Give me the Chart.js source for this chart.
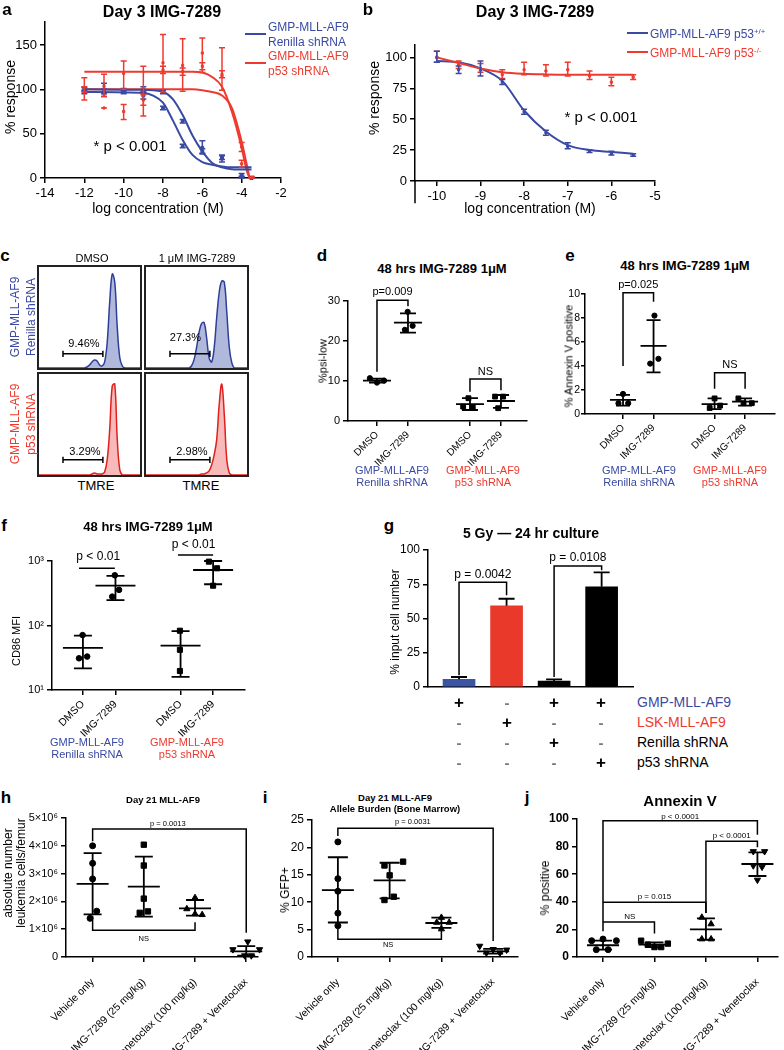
<!DOCTYPE html>
<html>
<head>
<meta charset="utf-8">
<title>IMG-7289 figure</title>
<script src="https://cdn.jsdelivr.net/npm/chart.js@4.4.1/dist/chart.umd.min.js"></script>
<style>
  body { margin: 0; background: #fff; }
  #page { position: relative; width: 784px; height: 1050px; overflow: hidden; background: #fff;
          font-family: Arial, "Liberation Sans", Helvetica, sans-serif; color: #000; }
  #page canvas { position: absolute; }
  .t { position: absolute; white-space: nowrap; line-height: 1; }
  .frame { position: absolute; border: 2px solid #222; box-sizing: border-box; }
  .key { position: absolute; height: 2px; }
  sup { font-size: 0.65em; vertical-align: 0.5em; line-height: 0; }
</style>
</head>
<body>
<div id="page"></div>
<script>
const BLUE = '#3a4aa3';
const RED = '#ee3a2e';
const FONT = 'Arial, "Liberation Sans", Helvetica, sans-serif';

// ---- a: dose response, Renilla vs p53 shRNA ----
const aXTicks = [-14, -12, -10, -8, -6, -4, -2];
const aYTicks = [0, 50, 100, 150];
const aConc = [-12, -11, -10, -9, -8, -7, -6, -5, -4, -3.5];
const aRenA = [97, 96, 97, 93, 79, 36, 34, 22, 3, 0];
const aRenALo = [95, 92, 95, 89, 77, 34, 28, 18, 1, 0];
const aRenAHi = [99, 100, 99, 97, 81, 38, 42, 26, 5, 1];
const aRenB = [100, 100, 99, 100, 97, 64, 30, 23, 1, 0];
const aRenBLo = [98, 95, 97, 97, 95, 62, 27, 21, 0, 0];
const aRenBHi = [102, 107, 101, 103, 99, 66, 33, 25, 2, 1];
const aP53A = [100, 104, 118, 98, 130, 127, 141, 115, 35, 0];
const aP53ALo = [88, 92, 100, 70, 97, 98, 119, 99, 30, 0];
const aP53AHi = [113, 117, 132, 126, 162, 157, 158, 147, 40, 2];
const aP53B = [100, 79, 75, 88, 122, 120, 126, 117, 16, 0];
const aP53BLo = [97, 79, 66, 82, 118, 116, 122, 113, 12, 0];
const aP53BHi = [103, 79, 83, 94, 126, 124, 130, 121, 20, 1];
// fitted curves
const aFitBlueX = [-12, -9, -8.5, -8, -7.5, -7, -6.5, -6, -5.5, -5, -4.5, -3.5];
const aFitRenA = [97, 96, 93, 85, 65, 43, 26, 18, 15, 13, 12, 12];
const aFitRenB = [100, 99.5, 99, 97.5, 89, 71, 48, 30, 17, 12, 10, 9.5];
const aFitRedX = [-12, -6.5, -6, -5.5, -5, -4.5, -4, -3.75, -3.6];
const aFitP53A = [120, 120, 119, 114, 103, 75, 34, 9, 0];
const aFitP53B = [100, 100, 99, 97, 93, 79, 41, 16, 0];

// ---- b: dose response, p53 +/+ vs -/- ----
const bXTicks = [-10, -9, -8, -7, -6, -5];
const bYTicks = [0, 25, 50, 75, 100];
const bConc = [-10, -9.5, -9, -8.5, -8, -7.5, -7, -6.5, -6, -5.5];
const bWT = [100, 90, 90, 80, 56, 39, 28, 24, 22, 21];
const bWTLo = [96, 87, 85, 78, 54, 37, 26, 23, 21, 20];
const bWTHi = [105, 93, 97, 82, 58, 41, 31, 25, 24, 22];
const bKO = [100, 94, 91, 86, 90, 89, 90, 85, 80, 84];
const bKOLo = [96, 91, 88, 83, 86, 85, 85, 82, 77, 82];
const bKOHi = [105, 97, 95, 90, 96, 94, 96, 89, 84, 86];
const bFitWT = [97, 96, 91, 81, 57, 40, 29, 25, 23.5, 22];
const bFitKO = [100, 95.5, 91, 88, 86.7, 86.2, 86, 86, 86, 86];

// ---- c: TMRE histograms (41 bins across each box) ----
const cRenDmso = [0,0,0,0,0,0,0,0,0,0, 0,0,0,0,0,0,0,0,0,1, 3,6,8,7,3,2,6,25,65,93, 85,40,10,2,0,0,0,0,0,0, 0];
const cRenImg = [0,0,0,0,0,0,0,0,0,0, 0,0,0,0,0,0,0,0,2,8, 20,35,44,45,30,10,6,20,50,75, 86,85,55,20,5,0,0,0,0,0, 0];
const cP53Dmso = [0,0,0,0,0,0,0,0,0,0, 0,0,0,0,0,0,0,0,0,0, 0,1,2,1,1,1,3,15,45,88, 90,35,5,0,0,0,0,0,0,0, 0];
const cP53Img = [0,0,0,0,0,0,0,0,0,0, 0,0,0,0,0,0,0,0,0,0, 0,0,1,1,2,4,10,20,35,70, 90,60,15,2,0,0,0,0,0,0, 0];

// ---- d: %psi-low ----
const dPos = [1, 2, 4, 5];
const dTicks = ['DMSO', 'IMG-7289', 'DMSO', 'IMG-7289'];
const dYTicks = [0, 10, 20, 30];
const dRenX = [0.77, 1, 1.23, 1.99, 1.9, 2.15];
const dRenY = [10.7, 9.6, 10.1, 27.3, 22.8, 23.8];
const dP53X = [3.95, 3.78, 4.09, 4.81, 5.07, 4.91];
const dP53Y = [5.7, 3.6, 3.5, 6.1, 6.1, 3.2];
const dMean = [10.1, 24.6, 4.2, 5.0];
const dLo = [9.6, 22.1, 2.75, 3.3];
const dHi = [10.6, 26.9, 5.7, 6.5];

// ---- e: % Annexin V positive ----
const eYTicks = [0, 2, 4, 6, 8, 10];
const eRenX = [1.0, 0.85, 1.17, 2.03, 1.89, 2.16];
const eRenY = [1.67, 0.9, 0.9, 8.2, 4.2, 4.6];
const eP53X = [4.0, 3.84, 4.18, 4.78, 4.95, 5.22];
const eP53Y = [1.3, 0.5, 0.7, 1.3, 0.9, 0.9];
const eMean = [1.17, 5.67, 0.83, 1.03];
const eLo = [0.7, 3.47, 0.4, 0.7];
const eHi = [1.6, 7.83, 1.3, 1.3];

// ---- f: CD86 MFI ----
const fYTicks = [10, 100, 1000];
const fYLabels = ['10¹', '10²', '10³'];
const fRenX = [0.99, 0.88, 1.13, 1.98, 1.9, 2.11];
const fRenY = [71, 31, 33, 600, 280, 357];
const fP53X = [3.98, 3.98, 3.98, 4.87, 5.12, 5.0];
const fP53Y = [83, 42, 19.7, 977, 771, 414];
const fMean = [45, 414, 48.6, 725];
const fLo = [21.7, 248, 16, 436];
const fHi = [69.5, 590, 82, 1000];

// ---- g: 5 Gy, % input cell number ----
const gPos = [1, 2, 3, 4];
const gYTicks = [0, 25, 50, 75, 100];
const gVals = [5.6, 59.3, 4.4, 73.2];
const gHi = [7.3, 64.4, 5.6, 83.7];
const gColors = ['#3b55a5', '#e8392a', '#000', '#000'];
const gRowNames = ['GMP-MLL-AF9', 'LSK-MLL-AF9', 'Renilla shRNA', 'p53 shRNA'];
const gRowColors = [BLUE, RED, '#000', '#000'];
const gTable = [['+', '-', '+', '+'], ['-', '+', '-', '-'], ['-', '-', '+', '-'], ['-', '-', '-', '+']];

// ---- h, i, j: day 21 in vivo ----
const vPos = [1, 2, 3, 4];
const vGroups = ['Vehicle only', 'IMG-7289 (25 mg/kg)', 'Venetoclax (100 mg/kg)', 'IMG-7289 + Venetoclax'];

const hYTicks = [0, 1e6, 2e6, 3e6, 4e6, 5e6];
const hVehX = [1, 1, 1, 1.08, 0.95];
const hVehY = [4.0e6, 3.37e6, 2.81e6, 1.65e6, 1.39e6];
const hImgX = [2, 2, 2, 1.92, 2.08];
const hImgY = [4.04e6, 3.29e6, 2.1e6, 1.59e6, 1.64e6];
const hVenX = [3, 2.84, 3, 3.14];
const hVenY = [2.13e6, 1.73e6, 1.55e6, 1.52e6];
const hComboX = [4.03, 3.74, 3.97, 4.1, 4.26];
const hComboY = [0.55e6, 0.27e6, 0.05e6, 0.05e6, 0.27e6];
const hMean = [2.63e6, 2.53e6, 1.75e6, 0.2e6];
const hLo = [1.53e6, 1.45e6, 1.49e6, 0.05e6];
const hHi = [3.74e6, 3.61e6, 2.05e6, 0.39e6];

const iYTicks = [0, 5, 10, 15, 20, 25];
const iVehX = [1, 1, 1, 1, 1];
const iVehY = [21, 14.3, 12.0, 8.0, 5.7];
const iImgX = [1.9, 2.26, 2.0, 1.9, 2.08];
const iImgY = [16.7, 17.4, 14.9, 10.4, 11.0];
const iVenX = [3.0, 2.91, 3.15, 3.0];
const iVenY = [7.2, 6.3, 6.3, 5.1];
const iComboX = [3.74, 4.0, 4.26, 3.87, 4.13];
const iComboY = [2.0, 1.4, 1.3, 0.75, 0.75];
const iMean = [12.2, 14.0, 6.2, 1.04];
const iLo = [6.3, 10.7, 5.3, 0.6];
const iHi = [18.2, 17.2, 7.2, 1.5];

const jYTicks = [0, 20, 40, 60, 80, 100];
const jVehX = [1.0, 0.78, 1.26, 0.87, 1.1];
const jVehY = [13.0, 11.8, 11.8, 5.3, 5.3];
const jImgX = [1.74, 1.87, 2.0, 2.13, 2.26];
const jImgY = [11.8, 8.9, 7.2, 7.2, 9.7];
const jVenX = [2.92, 3.1, 2.92, 3.1];
const jVenY = [28.7, 23.9, 13.0, 13.0];
const jComboX = [3.92, 4.14, 3.92, 4.09, 4.0];
const jComboY = [76.5, 76.5, 66.2, 65.2, 55.8];
const jMean = [8.5, 8.9, 20.0, 67.4];
const jLo = [5.3, 7.2, 12.5, 58.7];
const jHi = [11.8, 10.6, 28.0, 75.8];

/**
 * Error bars, mean lines, brackets and p-value labels,
 * all placed through the chart's own scales.
 */
const extras = {
  id: 'extras',
  afterDatasetsDraw(chart, args, opts) {
    const ctx = chart.ctx;
    const X = v => chart.scales.x.getPixelForValue(v);
    const Y = v => chart.scales.y.getPixelForValue(v);
    ctx.save();
    (opts.errs || []).forEach(function(e) {
      ctx.strokeStyle = e.col;
      ctx.lineWidth = e.lw;
      ctx.beginPath();
      e.xs.forEach(function(xv, i) {
        const px = X(xv), lo = Y(e.lo[i]), hi = Y(e.hi[i]);
        ctx.moveTo(px, lo); ctx.lineTo(px, hi);
        ctx.moveTo(px - e.cap, hi); ctx.lineTo(px + e.cap, hi);
        if (!e.upOnly) { ctx.moveTo(px - e.cap, lo); ctx.lineTo(px + e.cap, lo); }
        if (e.mid) {
          const m = Y(e.mid[i]);
          ctx.moveTo(px - e.half, m); ctx.lineTo(px + e.half, m);
        }
      });
      ctx.stroke();
    });
    (opts.marks || []).forEach(function(l) {
      ctx.strokeStyle = '#000';
      ctx.lineWidth = l.lw || 1.5;
      if (l.pts) {
        ctx.beginPath();
        l.pts.forEach(function(p, i) {
          if (i) ctx.lineTo(X(p[0]), Y(p[1])); else ctx.moveTo(X(p[0]), Y(p[1]));
        });
        ctx.stroke();
      }
      if (l.lab) {
        ctx.fillStyle = '#000';
        ctx.font = l.fs + 'px ' + FONT;
        ctx.textAlign = 'center';
        ctx.textBaseline = 'middle';
        ctx.fillText(l.lab, X(l.lx), Y(l.ly));
      }
    });
    ctx.restore();
  }
};

Chart.register(extras);
Chart.defaults.font.family = FONT;
Chart.defaults.font.size = 12;
Chart.defaults.color = '#000';
Chart.defaults.animation = false;
Chart.defaults.events = [];
Chart.defaults.plugins.legend.display = false;
Chart.defaults.plugins.tooltip.enabled = false;

const page = document.getElementById('page');

function xy(xs, ys) {
  return xs.map(function(x, i) { return { x: x, y: ys[i] }; });
}

/** Absolutely placed text, centred on (x, y) unless align is 'left'. */
function text(s, x, y, o) {
  o = o || {};
  const d = document.createElement('div');
  d.className = 't';
  d.innerHTML = s;
  d.style.left = x + 'px';
  d.style.top = y + 'px';
  d.style.fontSize = (o.size || 12) + 'px';
  if (o.bold) d.style.fontWeight = 'bold';
  if (o.color) d.style.color = o.color;
  const ax = o.align === 'left' ? '0' : '-50%';
  d.style.transform = 'translate(' + ax + ',-50%)' + (o.rot ? ' rotate(' + o.rot + 'deg)' : '');
  page.appendChild(d);
}

function div(cls, l, t, w, h, bg) {
  const d = document.createElement('div');
  d.className = cls;
  d.style.cssText = 'left:' + l + 'px;top:' + t + 'px;width:' + w + 'px;height:' + h + 'px;' + (bg ? 'background:' + bg : '');
  page.appendChild(d);
}

/**
 * Create a chart whose plot area lands on the page box [l, t, r, b].
 * yw / xh are the widths reserved for the y and x axes.
 */
function panel(area, yw, xh, pad, config) {
  const l = area[0], t = area[1], r = area[2], b = area[3];
  const w = r - l + yw + pad.right;
  const h = b - t + pad.top + xh + (pad.bottom || 0);
  const c = document.createElement('canvas');
  c.width = w; c.height = h;
  c.style.left = (l - yw) + 'px';
  c.style.top = (t - pad.top) + 'px';
  c.style.width = w + 'px';
  c.style.height = h + 'px';
  page.appendChild(c);
  const o = config.options;
  o.responsive = false;
  o.devicePixelRatio = 1;
  o.layout = { padding: { left: 0, top: pad.top, right: pad.right, bottom: pad.bottom || 0 }, autoPadding: false };
  o.scales.x.afterFit = function(s) { s.height = xh; s.paddingLeft = 0; s.paddingRight = 0; s.paddingTop = 0; s.paddingBottom = 0; };
  o.scales.y.afterFit = function(s) { s.width = yw; s.paddingTop = 0; s.paddingBottom = 0; s.paddingLeft = 0; s.paddingRight = 0; };
  return new Chart(c, config);
}

function axisLook(tl) {
  return {
    grid: { drawOnChartArea: false, tickLength: tl || 5, color: '#000', lineWidth: 1.5 },
    border: { color: '#000', width: 1.5 }
  };
}

// put the ticks exactly on the listed values
function fixed(vals) {
  return function(s) { s.ticks = vals.map(function(v) { return { value: v }; }); };
}

function yLin(min, max, vals, font, fmt, pad) {
  return Object.assign(axisLook(), {
    type: 'linear', min: min, max: max,
    afterBuildTicks: fixed(vals),
    ticks: { font: font, padding: pad === undefined ? 3 : pad, callback: fmt || function(v) { return v; } }
  });
}

function xLin(min, max, vals, font) {
  return Object.assign(axisLook(), {
    type: 'linear', min: min, max: max,
    afterBuildTicks: fixed(vals),
    ticks: { font: font, padding: 3, minRotation: 0, maxRotation: 0 }
  });
}

function xCat(min, max, pos, labels, font, pad) {
  return Object.assign(axisLook(), {
    type: 'linear', min: min, max: max,
    afterBuildTicks: fixed(pos),
    ticks: { autoSkip: false, minRotation: 45, maxRotation: 45, font: font, padding: pad || 5,
             callback: function(v, i) { return labels[i]; } }
  });
}

function curve(xs, ys, col) {
  return { data: xy(xs, ys), showLine: true, borderColor: col, borderWidth: 2, pointRadius: 0,
           cubicInterpolationMode: 'monotone', clip: false };
}

function dots(xs, ys, col, r, style, rot) {
  return { data: xy(xs, ys), pointStyle: style || 'circle', pointRadius: r, pointRotation: rot || 0,
           pointBackgroundColor: col, pointBorderColor: col, pointBorderWidth: 1, showLine: false, clip: false };
}

function bars(xs, lo, hi, col, cap) {
  return { xs: xs, lo: lo, hi: hi, col: col, cap: cap, lw: 1.5 };
}

function sd(xs, mid, lo, hi, cap, half) {
  return { xs: xs, mid: mid, lo: lo, hi: hi, col: '#000', cap: cap, half: half, lw: 1.8 };
}

function bracket(pts, lab, lx, ly, fs) {
  return { pts: pts, lab: lab, lx: lx, ly: ly, fs: fs };
}

// ================= a =================
panel([45, 22, 281, 178], 45, 26, { top: 4, right: 8 }, {
  type: 'scatter',
  data: { datasets: [
    curve(aFitBlueX, aFitRenA, BLUE), curve(aFitBlueX, aFitRenB, BLUE),
    curve(aFitRedX, aFitP53A, RED), curve(aFitRedX, aFitP53B, RED),
    dots(aConc, aRenA, BLUE, 2, 'rect'), dots(aConc, aRenB, BLUE, 2, 'rect'),
    dots(aConc, aP53A, RED, 1.5, 'rect'), dots(aConc, aP53B, RED, 1.5, 'rect')
  ] },
  options: {
    scales: { x: xLin(-14, -2, aXTicks, { size: 13 }), y: yLin(0, 176, aYTicks, { size: 13 }) },
    plugins: { extras: { errs: [
      bars(aConc, aRenALo, aRenAHi, BLUE, 3), bars(aConc, aRenBLo, aRenBHi, BLUE, 3),
      bars(aConc, aP53ALo, aP53AHi, RED, 3), bars(aConc, aP53BLo, aP53BHi, RED, 3)
    ] } }
  }
});

// ================= b =================
panel([415, 45, 655, 181], 35, 26, { top: 4, right: 8 }, {
  type: 'scatter',
  data: { datasets: [
    curve(bConc, bFitKO, RED), curve(bConc, bFitWT, BLUE),
    dots(bConc, bKO, RED, 1.5, 'rect'), dots(bConc, bWT, BLUE, 1.5, 'rect')
  ] },
  options: {
    scales: { x: xLin(-10.5, -5, bXTicks, { size: 13 }), y: yLin(0, 110, bYTicks, { size: 13 }) },
    plugins: { extras: {
      errs: [bars(bConc, bKOLo, bKOHi, RED, 3), bars(bConc, bWTLo, bWTHi, BLUE, 3)],
      marks: [{ pts: [[-10.5, 0], [-10.5, -18]] }]
    } }
  }
});

// ================= c =================
function histo(area, vals, line, fill, gateY, lab, lx, ly) {
  const bins = vals.map(function(v, i) { return i; });
  panel(area, 0, 0, { top: 0, right: 0 }, {
    type: 'line',
    data: { datasets: [{ data: xy(bins, vals), borderColor: line, backgroundColor: fill, borderWidth: 1.5,
                          fill: 'origin', pointRadius: 0, tension: 0.4 }] },
    options: {
      scales: { x: { type: 'linear', min: 0, max: 40, display: false },
                y: { type: 'linear', min: 0, max: 100, display: false } },
      plugins: { extras: { marks: [
        { pts: [[9.5, gateY], [25.3, gateY]] },
        { pts: [[9.5, gateY - 3], [9.5, gateY + 3]] },
        { pts: [[25.3, gateY - 3], [25.3, gateY + 3]] },
        { lab: lab, lx: lx, ly: ly, fs: 11 }
      ] } }
    }
  });
}
div('frame', 37, 265, 105, 105);
div('frame', 144, 265, 105, 105);
div('frame', 37, 372, 105, 105);
div('frame', 144, 372, 105, 105);
histo([39, 267, 140, 368], cRenDmso, '#2e3f99', 'rgba(80,98,175,0.45)', 14, '9.46%', 17.8, 24);
histo([146, 267, 247, 368], cRenImg, '#2e3f99', 'rgba(80,98,175,0.45)', 14, '27.3%', 15.6, 30);
histo([39, 374, 140, 475], cP53Dmso, '#e0201c', 'rgba(235,80,80,0.4)', 15, '3.29%', 18.2, 22.5);
histo([146, 374, 247, 475], cP53Img, '#e0201c', 'rgba(235,80,80,0.4)', 15, '2.98%', 18.2, 22.5);

// ================= d =================
panel([348, 301, 527, 421], 30, 60, { top: 18, right: 6 }, {
  type: 'scatter',
  data: { datasets: [dots(dRenX, dRenY, '#000', 2.6, 'circle'), dots(dP53X, dP53Y, '#000', 3.4, 'rect')] },
  options: {
    scales: { x: xCat(0.065, 5.84, dPos, dTicks, { size: 10 }, 3), y: yLin(0, 30, dYTicks, { size: 11 }) },
    plugins: { extras: {
      errs: [sd(dPos, dMean, dLo, dHi, 8, 14)],
      marks: [
        bracket([[1, 12.3], [1, 30.2], [2, 30.2], [2, 28.7]], 'p=0.009', 1.5, 32.3, 11),
        bracket([[4, 7.3], [4, 10.5], [5, 10.5], [5, 7.7]], 'NS', 4.5, 12.3, 11)
      ]
    } }
  }
});

// ================= e =================
const eY = yLin(0, 10, eYTicks, { size: 10.5 }, null, 1);
eY.grid.tickLength = 4;
panel([585, 294, 775, 414], 20, 60, { top: 18, right: 4 }, {
  type: 'scatter',
  data: { datasets: [dots(eRenX, eRenY, '#000', 2.6, 'circle'), dots(eP53X, eP53Y, '#000', 3.4, 'rect')] },
  options: {
    scales: { x: xCat(-0.246, 5.98, dPos, dTicks, { size: 10 }, 3), y: eY },
    plugins: { extras: {
      errs: [sd(dPos, eMean, eLo, eHi, 7, 13)],
      marks: [
        bracket([[1, 4.0], [1, 10.1], [2, 10.1], [2, 9.36]], 'p=0.025', 1.5, 10.75, 11),
        bracket([[4, 2.1], [4, 3.44], [5, 3.44], [5, 2.1]], 'NS', 4.5, 4.1, 11)
      ]
    } }
  }
});

// ================= f =================
const fLog = Object.assign(axisLook(), {
  type: 'logarithmic', min: 10, max: 1000,
  afterBuildTicks: fixed(fYTicks),
  ticks: { font: { size: 11 }, padding: 3, callback: function(v) { return fYLabels[fYTicks.indexOf(v)]; } }
});
panel([52, 561, 245, 690], 40, 60, { top: 30, right: 6 }, {
  type: 'scatter',
  data: { datasets: [dots(fRenX, fRenY, '#000', 2.8, 'circle'), dots(fP53X, fP53Y, '#000', 3.6, 'rect')] },
  options: {
    scales: { x: xCat(0.05, 5.98, dPos, dTicks, { size: 10.5 }, 3), y: fLog },
    plugins: { extras: {
      errs: [sd(dPos, fMean, fLo, fHi, 9, 20)],
      marks: [
        bracket([[0.88, 771], [1.98, 771]], 'p < 0.01', 1.47, 1170, 12),
        bracket([[3.92, 1235], [5.0, 1235]], 'p < 0.01', 4.4, 1780, 12)
      ]
    } }
  }
});

// ================= g =================
panel([428, 550, 633, 687], 30, 4, { top: 14, right: 6 }, {
  type: 'bar',
  data: { datasets: [{ data: xy(gPos, gVals), backgroundColor: gColors, barThickness: 32, borderWidth: 0 }] },
  options: {
    scales: {
      x: { type: 'linear', min: 0.347, max: 4.66, offset: false, ticks: { display: false },
           grid: { drawOnChartArea: false, drawTicks: false }, border: { color: '#000', width: 1.5 } },
      y: yLin(0, 100, gYTicks, { size: 12 })
    },
    plugins: { extras: {
      errs: [{ xs: gPos, lo: gVals, hi: gHi, col: '#000', cap: 8, lw: 1.8, upOnly: true }],
      marks: [
        bracket([[1, 8.5], [1, 76.4], [2, 76.4], [2, 67]], 'p = 0.0042', 1.5, 82.3, 12),
        bracket([[3, 7.3], [3, 88.3], [4, 88.3], [4, 85.3]], 'p = 0.0108', 3.5, 94.6, 12)
      ]
    } }
  }
});

// ================= h =================
function vivoSets(vx, vy, ix, iy, nx, ny, cx, cy) {
  return [
    dots(vx, vy, '#000', 3, 'circle'), dots(ix, iy, '#000', 3.8, 'rect'),
    dots(nx, ny, '#000', 3.6, 'triangle'), dots(cx, cy, '#000', 3.6, 'triangle', 180)
  ];
}
panel([66, 818, 258, 957], 62, 110, { top: 6, right: 8 }, {
  type: 'scatter',
  data: { datasets: vivoSets(hVehX, hVehY, hImgX, hImgY, hVenX, hVenY, hComboX, hComboY) },
  options: {
    scales: {
      x: xCat(0.48, 4.23, vPos, vGroups, { size: 10.5 }, 14),
      y: yLin(0, 5e6, hYTicks, { size: 11 }, function(v) { return v === 0 ? '0' : (v / 1e6) + '×10⁶'; })
    },
    plugins: { extras: {
      errs: [sd(vPos, hMean, hLo, hHi, 9, 16)],
      marks: [
        bracket([[1, 4.16e6], [1, 4.6e6], [4, 4.6e6], [4, 0.87e6]], 'p = 0.0013', 2.47, 4.78e6, 7.5),
        bracket([[1, 1.48e6], [1, 0.96e6], [3, 0.96e6], [3, 1.25e6]], 'NS', 2, 0.66e6, 7.5)
      ]
    } }
  }
});

// ================= i =================
panel([312, 820, 518, 957], 22, 110, { top: 6, right: 8 }, {
  type: 'scatter',
  data: { datasets: vivoSets(iVehX, iVehY, iImgX, iImgY, iVenX, iVenY, iComboX, iComboY) },
  options: {
    scales: { x: xCat(0.5, 4.48, vPos, vGroups, { size: 10.5 }, 14), y: yLin(0, 25, iYTicks, { size: 12 }) },
    plugins: { extras: {
      errs: [sd(vPos, iMean, iLo, iHi, 10, 16)],
      marks: [
        bracket([[1, 22.1], [1, 23.5], [4, 23.5], [4, 2.9]], 'p = 0.0031', 2.45, 24.7, 7.5),
        bracket([[1, 5.1], [1, 3.26], [3, 3.26], [3, 5.1]], 'NS', 1.97, 2.2, 7.5)
      ]
    } }
  }
});

// ================= j =================
panel([577, 819, 778, 957], 30, 110, { top: 12, right: 5 }, {
  type: 'scatter',
  data: { datasets: vivoSets(jVehX, jVehY, jImgX, jImgY, jVenX, jVenY, jComboX, jComboY) },
  options: {
    scales: { x: xCat(0.495, 4.4, vPos, vGroups, { size: 10.5 }, 14), y: yLin(0, 100, jYTicks, { size: 12, weight: 'bold' }) },
    plugins: { extras: {
      errs: [sd(vPos, jMean, jLo, jHi, 9, 16)],
      marks: [
        bracket([[1, 18.6], [1, 98.8], [4, 98.8], [4, 88.6]], 'p < 0.0001', 2.5, 101.9, 8),
        bracket([[3, 31.9], [3, 83.8], [4, 83.8], [4, 79.5]], 'p < 0.0001', 3.5, 87.9, 8),
        bracket([[1, 39.6], [3, 39.6], [3, 31.9]], 'p = 0.015', 2, 43.5, 8),
        bracket([[1, 25.4], [2, 25.4], [2, 17.1]], 'NS', 1.52, 29.4, 8)
      ]
    } }
  }
});

// ================= texts =================
// panel letters
[['a', 7, 9], ['b', 368, 9], ['c', 5, 255], ['d', 322, 255], ['e', 570, 255], ['f', 4, 525],
 ['g', 389, 525], ['h', 6, 797], ['i', 265, 797], ['j', 527, 797]].forEach(function(p) {
  text(p[0], p[1], p[2], { size: 17, bold: true });
});

// a
text('Day 3 IMG-7289', 162, 12, { size: 16, bold: true });
text('% response', 10, 97, { size: 14, rot: -90 });
text('log concentration (M)', 158, 208, { size: 14 });
text('* p &lt; 0.001', 130, 145, { size: 15 });
div('key', 245, 33, 21, 2, BLUE);
div('key', 245, 62, 21, 2, RED);
text('GMP-MLL-AF9', 268, 27, { size: 12, color: BLUE, align: 'left' });
text('Renilla shRNA', 268, 42, { size: 12, color: BLUE, align: 'left' });
text('GMP-MLL-AF9', 268, 56, { size: 12, color: RED, align: 'left' });
text('p53 shRNA', 268, 71, { size: 12, color: RED, align: 'left' });

// b
text('Day 3 IMG-7289', 535, 12, { size: 16, bold: true });
text('% response', 374, 98, { size: 14, rot: -90 });
text('log concentration (M)', 530, 208, { size: 14 });
text('* p &lt; 0.001', 601, 116, { size: 15 });
div('key', 627, 32, 21, 2, BLUE);
div('key', 627, 51, 21, 2, RED);
text('GMP-MLL-AF9 p53<sup>+/+</sup>', 650, 34, { size: 12, color: BLUE, align: 'left' });
text('GMP-MLL-AF9 p53<sup>-/-</sup>', 650, 53, { size: 12, color: RED, align: 'left' });

// c
text('DMSO', 92, 258, { size: 11 });
text('1 μM IMG-7289', 197, 258, { size: 11 });
text('GMP-MLL-AF9', 15, 317, { size: 12, color: BLUE, rot: -90 });
text('Renilla shRNA', 31, 317, { size: 12, color: BLUE, rot: -90 });
text('GMP-MLL-AF9', 15, 424, { size: 12, color: RED, rot: -90 });
text('p53 shRNA', 31, 424, { size: 12, color: RED, rot: -90 });
text('TMRE', 96, 485, { size: 13 });
text('TMRE', 201, 485, { size: 13 });

// d, e
text('48 hrs IMG-7289 1μM', 442, 268, { size: 13, bold: true });
text('%psi-low', 323, 361, { size: 11, rot: -90 });
text('48 hrs IMG-7289 1μM', 685, 265, { size: 13, bold: true });
text('% Annexin V positive', 569, 356, { size: 11, rot: -90 });
[[392, BLUE, 'Renilla shRNA'], [483, RED, 'p53 shRNA'], [639, BLUE, 'Renilla shRNA'], [730, RED, 'p53 shRNA']].forEach(function(g) {
  text('GMP-MLL-AF9', g[0], 470, { size: 11, color: g[1] });
  text(g[2], g[0], 482, { size: 11, color: g[1] });
});

// f
text('48 hrs IMG-7289 1μM', 148, 526, { size: 13, bold: true });
text('CD86 MFI', 16, 641, { size: 11, rot: -90 });
[[87, BLUE, 'Renilla shRNA'], [187, RED, 'p53 shRNA']].forEach(function(g) {
  text('GMP-MLL-AF9', g[0], 742, { size: 11, color: g[1] });
  text(g[2], g[0], 754, { size: 11, color: g[1] });
});

// g
text('5 Gy — 24 hr culture', 531, 533, { size: 14, bold: true });
text('% input cell number', 395, 622, { size: 12, rot: -90 });
const gRowY = [702, 722, 742, 762];
const gColX = [459, 507, 554, 601];
gTable.forEach(function(row, r) {
  row.forEach(function(s, c) {
    if (s === '+') text('+', gColX[c], gRowY[r], { size: 17, bold: true });
    else text('-', gColX[c], gRowY[r], { size: 15, bold: true, color: '#777' });
  });
  text(gRowNames[r], 637, gRowY[r], { size: 14, color: gRowColors[r], align: 'left' });
});

// h, i, j
text('Day 21 MLL-AF9', 163, 800, { size: 9.5, bold: true });
text('absolute number', 8, 873, { size: 12, rot: -90 });
text('leukemia cells/femur', 21, 873, { size: 12, rot: -90 });
text('Day 21 MLL-AF9', 395, 798, { size: 9.5, bold: true });
text('Allele Burden (Bone Marrow)', 395, 809, { size: 9.5, bold: true });
text('% GFP+', 285, 890, { size: 12, rot: -90 });
text('Annexin V', 680, 800, { size: 15, bold: true });
text('% positive', 545, 888, { size: 12, rot: -90 });
</script>
</body>
</html>
